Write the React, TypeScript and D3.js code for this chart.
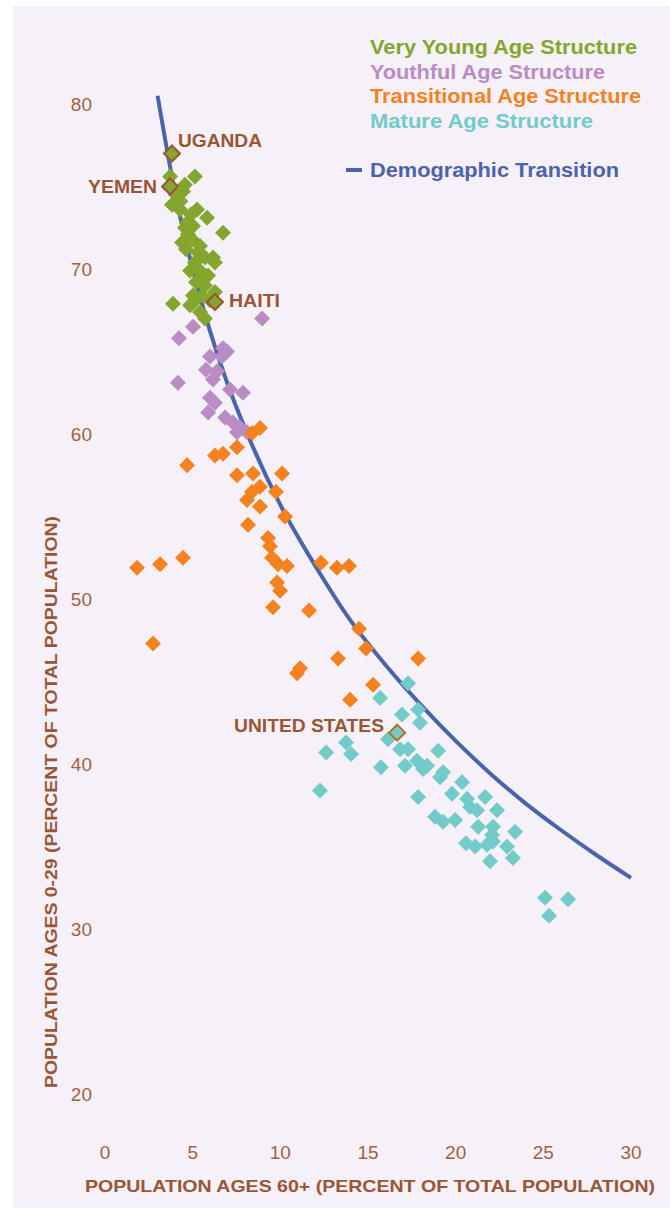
import React from "react";
import * as d3 from "d3";

// ---- data ----
type P = [number, number];

const veryYoung: P[] = [
  [5.13, 75.6], [3.71, 75.6], [4.56, 75.1], [4.45, 74.7], [4.05, 74.5], [3.82, 73.9],
  [4.28, 73.6], [5.25, 73.6], [5.82, 73.1], [6.73, 72.2], [4.56, 72.5], [4.73, 72.1],
  [4.39, 71.6], [4.96, 71.8], [4.62, 71.2], [5.31, 71.0], [5.13, 70.4], [5.7, 70.7],
  [6.16, 70.7], [6.27, 70.4], [4.85, 69.9], [5.42, 69.9], [5.88, 69.6], [5.19, 69.2],
  [5.7, 69.0], [6.27, 68.6], [5.99, 68.1], [5.13, 68.1], [4.85, 67.8], [5.42, 67.4],
  [5.7, 67.0], [3.88, 67.9], [5.02, 68.4], [5.53, 68.4], [4.68, 72.8], [5.02, 72.6],
  [5.42, 71.4], [4.3, 74.1], [4.9, 73.3], [5.6, 69.6],
];

const youthful: P[] = [
  [8.96, 67.0], [5.02, 66.5], [4.22, 65.8], [6.73, 65.2], [6.96, 65.0], [6.67, 64.7],
  [5.99, 64.7], [5.76, 63.9], [6.39, 63.8], [6.16, 63.3], [4.16, 63.1], [7.13, 62.7],
  [7.87, 62.5], [5.99, 62.2], [6.27, 61.9], [5.88, 61.3], [6.85, 61.0], [7.3, 60.7],
  [7.7, 60.4], [8.1, 60.1], [7.53, 60.1],
];

const transitional: P[] = [
  [8.84, 60.36], [8.39, 60.06], [7.53, 59.2], [6.27, 58.7], [6.73, 58.8], [4.68, 58.1],
  [7.53, 57.5], [8.44, 57.6], [10.1, 57.6], [8.84, 56.8], [8.39, 56.5], [9.75, 56.5],
  [8.1, 56.0], [8.84, 55.6], [10.27, 55.0], [8.16, 54.5], [9.3, 53.7], [9.41, 53.2],
  [9.53, 52.5], [9.87, 52.1], [10.38, 52.0], [9.81, 51.0], [9.98, 50.5], [9.58, 49.5],
  [4.45, 52.5], [3.14, 52.1], [1.83, 51.9], [2.74, 47.3], [11.64, 49.3], [12.32, 52.2],
  [13.23, 51.9], [13.92, 52.0], [14.49, 48.2], [14.89, 47.0], [13.29, 46.4], [17.86, 46.4],
  [11.12, 45.8], [10.95, 45.5], [15.29, 44.8], [13.98, 43.9],
];

const mature: P[] = [
  [17.28, 44.9], [15.69, 44.0], [16.14, 41.5], [16.94, 43.0], [16.83, 40.9], [17.28, 40.9],
  [13.75, 41.3], [14.03, 40.6], [12.61, 40.7], [15.74, 39.8], [17.11, 39.9], [12.26, 38.4],
  [17.86, 38.0], [17.86, 43.3], [17.97, 42.5], [19.0, 40.8], [17.8, 40.2], [18.37, 39.9],
  [18.14, 39.7], [19.28, 39.5], [19.11, 39.2], [20.37, 38.9], [19.79, 38.2], [20.65, 37.9],
  [21.68, 38.0], [20.82, 37.4], [21.22, 37.2], [22.36, 37.2], [18.82, 36.8], [19.28, 36.5],
  [19.97, 36.6], [21.28, 36.2], [22.13, 36.2], [22.08, 35.7], [23.39, 35.9], [20.59, 35.2],
  [21.11, 35.0], [21.79, 35.1], [22.13, 35.3], [22.93, 35.0], [21.96, 34.1], [23.27, 34.3],
  [25.1, 31.9], [26.41, 31.8], [25.33, 30.8],
];

const transitionCurve: P[] = [
  [3, 80.5], [4, 74.6], [5, 70.0], [6, 66.2], [7, 63.0], [8, 60.3], [10, 55.7], [12, 52.0],
  [14, 48.7], [16, 46.0], [18, 43.6], [20, 41.4], [22, 39.4], [24, 37.6], [26, 36.0],
  [28, 34.5], [30, 33.1],
];

const highlighted = [
  { name: "UGANDA", x: 3.82, y: 77.0, group: "vy" },
  { name: "YEMEN", x: 3.71, y: 75.0, group: "vy" },
  { name: "HAITI", x: 6.27, y: 68.0, group: "vy" },
  { name: "UNITED STATES", x: 16.66, y: 41.9, group: "m" },
];

const xTicks = [0, 5, 10, 15, 20, 25, 30];
const yTicks = [20, 30, 40, 50, 60, 70, 80];

const legendItems = [
  "Very Young Age Structure",
  "Youthful Age Structure",
  "Transitional Age Structure",
  "Mature Age Structure",
];

// ---- styles ----
const COLORS = ["#84a52e", "#b98cc3", "#f5821f", "#72cbc8"];
const BROWN = "#9a5535";
const TICK = "#a5603f";
const BLUE = "#4a63ad";
const BG = "#f6f1f8";
const legendWidths = [267, 235, 271, 223];

const labels = [
  { t: "UGANDA", x: 178, y: 141, anchor: "start", w: 84 },
  { t: "YEMEN", x: 157, y: 187, anchor: "end", w: 69 },
  { t: "HAITI", x: 229, y: 301, anchor: "start", w: 51 },
  { t: "UNITED STATES", x: 384, y: 726, anchor: "end", w: 150 },
];

export default function App() {
  const W = 670, H = 1212;
  const x = d3.scaleLinear().domain([0, 30]).range([105, 631]);
  const y = d3.scaleLinear().domain([20, 80]).range([1094, 104]);
  const r = 8;
  const diamond = (px: number, py: number) =>
    `M${px},${py - r}L${px + r},${py}L${px},${py + r}L${px - r},${py}Z`;
  const line = d3
    .line<P>()
    .x((d) => x(d[0]))
    .y((d) => y(d[1]))
    .curve(d3.curveMonotoneX);

  const series = [veryYoung, youthful, transitional, mature];
  const font = "'Liberation Sans', Arial, Helvetica, sans-serif";

  return (
    <svg width={W} height={H} style={{ position: "absolute", left: 0, top: 0 }} fontFamily={font}>
      <rect x={0} y={0} width={W} height={H} fill="#ffffff" />
      <rect x={13} y={6} width={W - 13} height={1202} fill={BG} />

      {yTicks.map((t) => (
        <text key={"y" + t} x={92} y={y(t)} dy="0.35em" textAnchor="end" fontSize={19} fill={TICK}>
          {t}
        </text>
      ))}
      {xTicks.map((t) => (
        <text key={"x" + t} x={x(t)} y={1152} dy="0.35em" textAnchor="middle" fontSize={19} fill={TICK}>
          {t}
        </text>
      ))}

      <text
        x={370}
        y={1186}
        dy="0.35em"
        textAnchor="middle"
        fontSize={17}
        fontWeight="bold"
        fill={BROWN}
        textLength={570}
        lengthAdjust="spacingAndGlyphs"
      >
        POPULATION AGES 60+ (PERCENT OF TOTAL POPULATION)
      </text>
      <text
        transform={`translate(51,802) rotate(-90)`}
        dy="0.35em"
        textAnchor="middle"
        fontSize={17}
        fontWeight="bold"
        fill={BROWN}
        textLength={572}
        lengthAdjust="spacingAndGlyphs"
      >
        POPULATION AGES 0-29 (PERCENT OF TOTAL POPULATION)
      </text>

      <path d={line(transitionCurve) || ""} fill="none" stroke={BLUE} strokeWidth={4} />

      {series.map((s, i) =>
        s.map((d, j) => <path key={i + "-" + j} d={diamond(x(d[0]), y(d[1]))} fill={COLORS[i]} />)
      )}

      {highlighted.map((h) => (
        <path
          key={h.name}
          d={diamond(x(h.x), y(h.y))}
          fill={h.group === "vy" ? COLORS[0] : COLORS[3]}
          stroke={h.group === "vy" ? BROWN : "#b5701e"}
          strokeWidth={2}
        />
      ))}
      {labels.map((l) => (
        <text
          key={l.t}
          x={l.x}
          y={l.y}
          dy="0.35em"
          textAnchor={l.anchor as any}
          fontSize={18}
          fontWeight="bold"
          fill={BROWN}
          textLength={l.w}
          lengthAdjust="spacingAndGlyphs"
        >
          {l.t}
        </text>
      ))}

      {legendItems.map((t, i) => (
        <text
          key={t}
          x={370}
          y={47 + i * 24.7}
          dy="0.35em"
          fontSize={20}
          fontWeight="bold"
          fill={COLORS[i]}
          textLength={legendWidths[i]}
          lengthAdjust="spacingAndGlyphs"
        >
          {t}
        </text>
      ))}
      <line x1={346} x2={362} y1={170} y2={170} stroke={BLUE} strokeWidth={4} />
      <text
        x={370}
        y={170}
        dy="0.35em"
        fontSize={20}
        fontWeight="bold"
        fill={BLUE}
        textLength={249}
        lengthAdjust="spacingAndGlyphs"
      >
        Demographic Transition
      </text>
    </svg>
  );
}
